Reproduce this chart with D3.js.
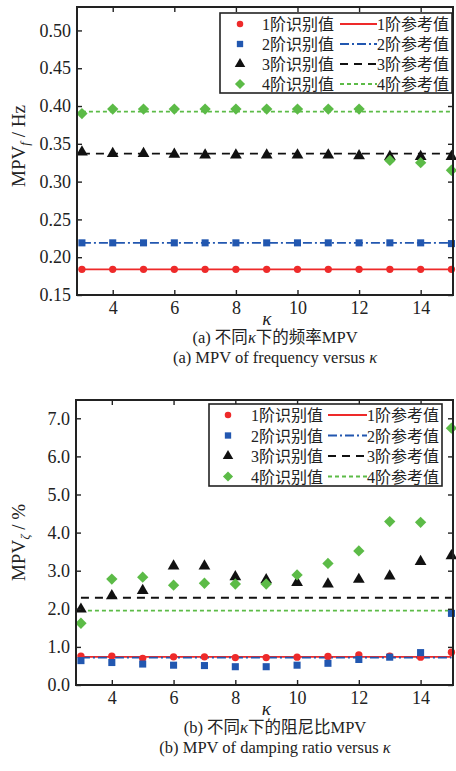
<!DOCTYPE html>
<html>
<head>
<meta charset="utf-8">
<script src="https://cdn.jsdelivr.net/npm/d3@7"></script>
<style>
  html, body { margin: 0; padding: 0; background: #fff; }
  svg { display: block; }
  text { font-family: "Liberation Serif", "Noto Sans CJK SC", serif; fill: #222; }
</style>
</head>
<body>
<svg id="chart" width="456" height="771"></svg>
<script>
// κ values shared by both panels
const kappa = [3, 4, 5, 6, 7, 8, 9, 10, 11, 12, 13, 14, 15];
const xTicks = [4, 6, 8, 10, 12, 14];

// (a) identified frequency MPV per mode
const freqMode1 = [0.184, 0.184, 0.184, 0.184, 0.184, 0.184, 0.184, 0.184, 0.184, 0.184, 0.184, 0.184, 0.184];
const freqMode2 = [0.219, 0.219, 0.219, 0.219, 0.219, 0.219, 0.219, 0.219, 0.219, 0.219, 0.219, 0.219, 0.218];
const freqMode3 = [0.339, 0.337, 0.337, 0.336, 0.335, 0.335, 0.335, 0.335, 0.335, 0.334, 0.333, 0.333, 0.333];
const freqMode4 = [0.390, 0.396, 0.396, 0.396, 0.396, 0.396, 0.396, 0.396, 0.396, 0.396, 0.328, 0.325, 0.315];
const freqRef = [0.184, 0.219, 0.337, 0.3925];
const freqTicks = [0.15, 0.20, 0.25, 0.30, 0.35, 0.40, 0.45, 0.50];

// (b) identified damping ratio MPV per mode (%)
const dampMode1 = [0.76, 0.76, 0.70, 0.74, 0.74, 0.72, 0.72, 0.73, 0.75, 0.79, 0.76, 0.73, 0.86];
const dampMode2 = [0.64, 0.59, 0.55, 0.52, 0.51, 0.48, 0.48, 0.52, 0.57, 0.67, 0.73, 0.85, 1.88];
const dampMode3 = [1.99, 2.34, 2.48, 3.12, 3.12, 2.84, 2.76, 2.69, 2.65, 2.77, 2.86, 3.24, 3.39];
const dampMode4 = [1.62, 2.78, 2.83, 2.62, 2.67, 2.65, 2.65, 2.89, 3.19, 3.52, 4.29, 4.27, 6.74];
const dampRef = [0.74, 0.72, 2.29, 1.95];
const dampTicks = [0, 1, 2, 3, 4, 5, 6, 7];

const idLabels = ["1阶识别值", "2阶识别值", "3阶识别值", "4阶识别值"];
const refLabels = ["1阶参考值", "2阶参考值", "3阶参考值", "4阶参考值"];

const colors = ["#ee2a2a", "#2257b0", "#111111", "#5cbb47"];
const dashes = [null, "9,3,2,3", "8,6", "4,3"];

// square-ish diamond (a square turned by 45°)
const wideDiamond = {
  draw(ctx, size) {
    const r = Math.sqrt(size / 2);
    ctx.moveTo(0, -r); ctx.lineTo(r, 0); ctx.lineTo(0, r); ctx.lineTo(-r, 0); ctx.closePath();
  }
};
const symbols = [d3.symbolCircle, d3.symbolSquare, d3.symbolTriangle, wideDiamond];
const symSizes = [42, 50, 60, 64];

const svg = d3.select("#chart");

function panel(opt) {
  const { left, right, top, bottom, yDomain, yTicks, yFmt, series, refs, legend } = opt;
  const x = d3.scaleLinear().domain([2.84, 15.05]).range([left, right]);
  const y = d3.scaleLinear().domain(yDomain).range([bottom, top]);
  const g = svg.append("g");

  // reference lines
  refs.forEach((v, i) => {
    g.append("line")
      .attr("x1", x(3)).attr("x2", x(15))
      .attr("y1", y(v)).attr("y2", y(v))
      .attr("stroke", colors[i]).attr("stroke-width", 1.8)
      .attr("stroke-dasharray", dashes[i]);
  });

  // identified markers
  series.forEach((vals, i) => {
    g.selectAll(null).data(vals).enter().append("path")
      .attr("d", d3.symbol().type(symbols[i]).size(symSizes[i]))
      .attr("transform", (d, j) => `translate(${x(kappa[j])},${y(d)})`)
      .attr("fill", colors[i]);
  });

  // axes with inward ticks on all four sides
  const tk = 5;
  g.append("g").attr("transform", `translate(0,${bottom})`)
    .call(d3.axisBottom(x).tickValues(xTicks).tickSizeInner(-tk).tickSizeOuter(0).tickPadding(6))
    .call(a => a.select(".domain").remove());
  g.append("g").attr("transform", `translate(0,${top})`)
    .call(d3.axisTop(x).tickValues(xTicks).tickSizeInner(-tk).tickSizeOuter(0).tickFormat(""))
    .call(a => a.select(".domain").remove());
  g.append("g").attr("transform", `translate(${left},0)`)
    .call(d3.axisLeft(y).tickValues(yTicks).tickSizeInner(-tk).tickSizeOuter(0).tickPadding(6).tickFormat(d3.format(yFmt)))
    .call(a => a.select(".domain").remove());
  g.append("g").attr("transform", `translate(${right},0)`)
    .call(d3.axisRight(y).tickValues(yTicks).tickSizeInner(-tk).tickSizeOuter(0).tickFormat(""))
    .call(a => a.select(".domain").remove());
  g.selectAll(".tick line").attr("stroke", "#222").attr("stroke-width", 1.4);
  g.selectAll(".tick text").attr("font-size", 18).attr("fill", "#222")
    .attr("font-family", "Liberation Serif, serif");

  g.append("rect")
    .attr("x", left).attr("y", top)
    .attr("width", right - left).attr("height", bottom - top)
    .attr("fill", "none").attr("stroke", "#222").attr("stroke-width", 2);

  // legend
  const L = legend;
  g.append("rect")
    .attr("x", L.x0).attr("y", L.y0)
    .attr("width", L.x1 - L.x0).attr("height", L.y1 - L.y0)
    .attr("fill", "#fff").attr("stroke", "#222").attr("stroke-width", 1.6);
  for (let i = 0; i < 4; i++) {
    const ry = L.y0 + L.rowTop + i * L.rowGap;
    g.append("path")
      .attr("d", d3.symbol().type(symbols[i]).size(symSizes[i] * 0.8))
      .attr("transform", `translate(${L.mx},${ry})`)
      .attr("fill", colors[i]);
    g.append("text").attr("x", L.tx).attr("y", ry + 6)
      .attr("font-size", 16).text(idLabels[i]);
    g.append("line")
      .attr("x1", L.lx0).attr("x2", L.lx1).attr("y1", ry).attr("y2", ry)
      .attr("stroke", colors[i]).attr("stroke-width", 1.8)
      .attr("stroke-dasharray", dashes[i]);
    g.append("text").attr("x", L.lx1).attr("y", ry + 6)
      .attr("font-size", 16).text(refLabels[i]);
  }

  // axis titles
  const yl = g.append("text")
    .attr("transform", `translate(${opt.yLabelX},${(top + bottom) / 2 + opt.yLabelShift}) rotate(-90)`)
    .attr("text-anchor", "middle").attr("font-size", 19);
  yl.append("tspan").text("MPV");
  yl.append("tspan").attr("font-size", 13).attr("dy", 4).attr("font-style", "italic").text(opt.sub);
  yl.append("tspan").attr("dy", -4).text(" / " + opt.unit);

  g.append("text").attr("x", x(9)).attr("y", bottom + 30)
    .attr("text-anchor", "middle").attr("font-size", 19).attr("font-style", "italic").text("κ");

  const c1 = g.append("text").attr("x", 275).attr("y", bottom + 48)
    .attr("text-anchor", "middle").attr("font-size", 16.5);
  c1.append("tspan").text(opt.cap1a);
  c1.append("tspan").attr("font-style", "italic").text("κ");
  c1.append("tspan").text(opt.cap1b);
  const c2 = g.append("text").attr("x", 275).attr("y", bottom + 68)
    .attr("text-anchor", "middle").attr("font-size", 16.5);
  c2.append("tspan").text(opt.cap2);
  c2.append("tspan").attr("font-style", "italic").text("κ");
}

panel({
  left: 77, right: 453, top: 7, bottom: 295,
  yDomain: [0.15, 0.531], yTicks: freqTicks, yFmt: ".2f",
  series: [freqMode1, freqMode2, freqMode3, freqMode4], refs: freqRef,
  legend: { x0: 220, x1: 452, y0: 13, y1: 93, rowTop: 11, rowGap: 20, mx: 240, tx: 262, lx0: 340, lx1: 377 },
  yLabelX: 25, yLabelShift: -5, sub: "f", unit: "Hz",
  cap1a: "(a) 不同", cap1b: "下的频率MPV", cap2: "(a) MPV of frequency versus "
});

panel({
  left: 76, right: 453, top: 400, bottom: 685,
  yDomain: [0, 7.48], yTicks: dampTicks, yFmt: ".1f",
  series: [dampMode1, dampMode2, dampMode3, dampMode4], refs: dampRef,
  legend: { x0: 209, x1: 442, y0: 404, y1: 486, rowTop: 11, rowGap: 20.5, mx: 228, tx: 251, lx0: 328, lx1: 367 },
  yLabelX: 25, yLabelShift: 0, sub: "ζ", unit: "%",
  cap1a: "(b) 不同", cap1b: "下的阻尼比MPV", cap2: "(b) MPV of damping ratio versus "
});
</script>
</body>
</html>
